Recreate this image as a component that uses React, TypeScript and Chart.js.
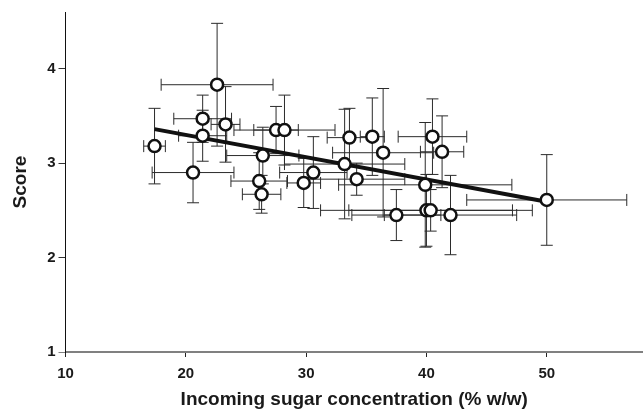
import React, { useEffect, useRef } from 'react';
import { Chart, registerables } from 'chart.js';

Chart.register(...registerables);

// Incoming sugar concentration (% w/w)
const concentration = [
  17.4, 22.6, 21.4, 23.3, 21.4, 27.5, 28.2, 26.4, 20.6, 26.1, 26.3, 29.8, 30.6,
  33.2, 33.6, 35.5, 36.4, 34.2, 40.5, 41.3, 39.9, 50.0, 37.5, 40.0, 40.35, 42.0,
];
// Score
const score = [
  3.18, 3.83, 3.47, 3.41, 3.29, 3.35, 3.35, 3.08, 2.9, 2.81, 2.67, 2.79, 2.9,
  2.99, 3.27, 3.28, 3.11, 2.83, 3.28, 3.12, 2.77, 2.61, 2.45, 2.5, 2.5, 2.45,
];
// horizontal error (± % w/w)
const concentrationErr = [
  0.9, 4.65, 2.4, 1.2, 2.0, 1.85, 4.2, 3.0, 3.4, 2.35, 1.6, 1.4, 2.8,
  5.0, 1.85, 1.0, 4.2, 4.0, 2.85, 1.8, 7.2, 6.65, 3.7, 8.8, 6.8, 5.5,
];
// vertical error (± score)
const scoreErr = [
  0.4, 0.65, 0.25, 0.4, 0.27, 0.25, 0.37, 0.3, 0.32, 0.3, 0.2, 0.26, 0.38,
  0.58, 0.31, 0.41, 0.68, 0.17, 0.4, 0.38, 0.66, 0.48, 0.27, 0.38, 0.22, 0.42,
];
// fitted regression line
const fitX = [17.4, 50];
const fitY = [3.36, 2.59];

const xTicks = [10, 20, 30, 40, 50];
const yTicks = [1, 2, 3, 4];

const FONT = "'Liberation Sans', Arial, Helvetica, sans-serif";

const errorBarsPlugin = {
  id: 'errorBars',
  beforeDatasetsDraw(chart: any) {
    const { ctx, scales } = chart;
    const xs = scales.x;
    const ys = scales.y;
    const cap = 6;
    ctx.save();
    ctx.strokeStyle = '#2b2b2b';
    ctx.lineWidth = 1;
    for (let i = 0; i < concentration.length; i++) {
      const cx = xs.getPixelForValue(concentration[i]);
      const cy = ys.getPixelForValue(score[i]);
      const x0 = xs.getPixelForValue(concentration[i] - concentrationErr[i]);
      const x1 = xs.getPixelForValue(concentration[i] + concentrationErr[i]);
      const y0 = ys.getPixelForValue(score[i] - scoreErr[i]);
      const y1 = ys.getPixelForValue(score[i] + scoreErr[i]);
      ctx.beginPath();
      ctx.moveTo(x0, cy);
      ctx.lineTo(x1, cy);
      ctx.moveTo(x0, cy - cap);
      ctx.lineTo(x0, cy + cap);
      ctx.moveTo(x1, cy - cap);
      ctx.lineTo(x1, cy + cap);
      ctx.moveTo(cx, y0);
      ctx.lineTo(cx, y1);
      ctx.moveTo(cx - cap, y0);
      ctx.lineTo(cx + cap, y0);
      ctx.moveTo(cx - cap, y1);
      ctx.lineTo(cx + cap, y1);
      ctx.stroke();
    }
    ctx.restore();
  },
};

export default function App() {
  const canvasRef = useRef<HTMLCanvasElement | null>(null);

  useEffect(() => {
    const canvas = canvasRef.current;
    if (!canvas) return;
    const tickFont = { family: FONT, weight: 'bold' as const, size: 15 };
    const titleFont = { family: FONT, weight: 'bold' as const, size: 19 };
    const chart = new Chart(canvas, {
      type: 'scatter',
      data: {
        datasets: [
          {
            type: 'scatter',
            data: concentration.map((c, i) => ({ x: c, y: score[i] })),
            pointRadius: 6,
            pointHoverRadius: 6,
            pointBackgroundColor: '#ffffff',
            pointBorderColor: '#111111',
            pointBorderWidth: 2.5,
            clip: false,
            order: 0,
          },
          {
            type: 'line',
            data: fitX.map((v, i) => ({ x: v, y: fitY[i] })),
            borderColor: '#111111',
            borderWidth: 4,
            pointRadius: 0,
            showLine: true,
            fill: false,
            clip: false,
            order: 1,
          } as any,
        ],
      },
      options: {
        responsive: false,
        animation: false,
        layout: { autoPadding: false, padding: { top: 11.7, right: 0, bottom: 0, left: 0 } },
        plugins: {
          legend: { display: false },
          tooltip: { enabled: false },
        },
        scales: {
          x: {
            type: 'linear',
            min: 10,
            max: 58,
            afterBuildTicks: (s: any) => {
              s.ticks = xTicks.map((v) => ({ value: v }));
            },
            afterFit: (s: any) => {
              s.height = 61;
              s.paddingRight = 0;
              s.paddingLeft = 0;
            },
            border: { color: '#808080', width: 2 },
            grid: {
              drawOnChartArea: false,
              drawTicks: true,
              tickLength: 5,
              color: '#222222',
            },
            ticks: {
              color: '#1a1a1a',
              font: tickFont,
              padding: 8,
              maxRotation: 0,
              autoSkip: false,
            },
            title: {
              display: true,
              text: 'Incoming sugar concentration (% w/w)',
              color: '#1a1a1a',
              font: titleFont,
              padding: { top: 0, bottom: 1.6 },
            },
          },
          y: {
            type: 'linear',
            min: 1,
            max: 4.6,
            afterBuildTicks: (s: any) => {
              s.ticks = yTicks.map((v) => ({ value: v }));
            },
            afterFit: (s: any) => {
              s.width = 65.5;
            },
            border: { color: '#111111', width: 1 },
            grid: {
              drawOnChartArea: false,
              drawTicks: true,
              tickLength: 7,
              color: (c: any) => (c.tick && c.tick.value === 1 ? '#808080' : '#333333'),
            },
            ticks: {
              color: '#1a1a1a',
              font: tickFont,
              padding: 3,
              autoSkip: false,
            },
            title: {
              display: true,
              text: 'Score',
              color: '#1a1a1a',
              font: titleFont,
              padding: { top: 9, bottom: 0 },
            },
          },
        },
      },
      plugins: [errorBarsPlugin],
    });
    return () => chart.destroy();
  }, []);

  return (
    <div style={{ position: 'fixed', left: 0, top: 0, width: 643, height: 413, background: '#fff' }}>
      <canvas ref={canvasRef} width={643} height={413} style={{ display: 'block' }} />
    </div>
  );
}
